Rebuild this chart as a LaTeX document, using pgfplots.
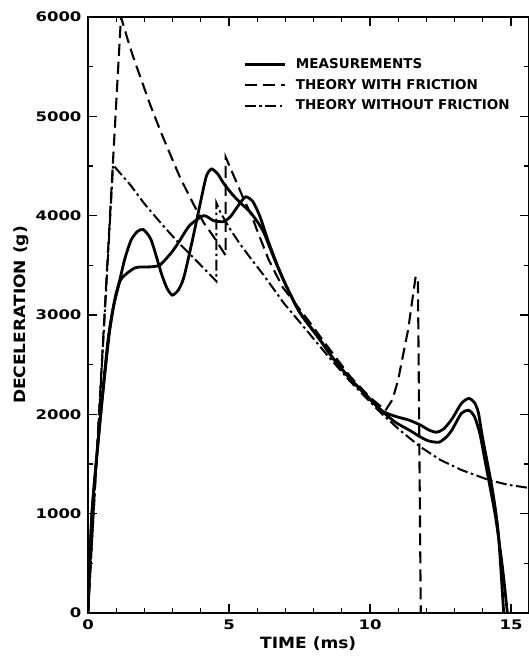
\documentclass[border=0pt]{standalone}
\usepackage{fontspec}
\setmainfont{DejaVu Sans}
\newfontfamily\tickfont{DejaVu Sans}[FakeStretch=1.25]
\newfontfamily\labfont{DejaVu Sans}[FakeStretch=1.1]
\usepackage{pgfplots}
\pgfplotsset{compat=1.18}
\begin{document}
\begin{tikzpicture}
\begin{axis}[
  scale only axis, width=440.5pt, height=596pt,
  xmin=0, xmax=15.62, ymin=0, ymax=6000,
  axis line style={line width=1.5pt},
  xtick={0,5,10,15}, ytick={0,1000,...,6000},
  minor x tick num=4, minor y tick num=1,
  tick align=inside, tick pos=both,
  xticklabel pos=lower, yticklabel pos=left,
  major tick length=9pt, minor tick length=5pt,
  every tick/.style={black, line width=1.2pt},
  /pgf/number format/1000 sep={},
  /pgf/number format/assume math mode=true,
  ticklabel style={font=\tickfont\bfseries\fontsize{13.2}{15}\selectfont},
  xticklabel style={yshift=-3pt}, yticklabel style={xshift=-3pt},
  xlabel={TIME (ms)}, ylabel={DECELERATION (g)},
  label style={font=\labfont\bfseries\fontsize{15.5}{18}\selectfont},
  legend style={at={(0.345,0.937)}, anchor=north west, draw=none, fill=none,
    font=\bfseries\fontsize{13.5}{16}\selectfont, row sep=5pt, cells={anchor=west},
    /tikz/every odd column/.append style={column sep=8pt}},
  legend image code/.code={\draw[#1] (0pt,0pt) -- (40pt,0pt);},
]
% Measurements, trace A
\addplot[black, line width=2.8pt, smooth, tension=0.4] coordinates {
(0,0) (0.14,1000) (0.45,2000) (0.71,2750) (0.9,3080) (1.07,3280) (1.3,3560)
(1.53,3755) (1.75,3840) (1.96,3860) (2.24,3755) (2.6,3420) (2.8,3270) (2.99,3200)
(3.2,3250) (3.4,3380) (3.7,3750) (4.0,4150) (4.2,4400) (4.38,4470) (4.6,4420)
(4.8,4330) (5.1,4220) (5.4,4130) (5.77,4030) (6.2,3850) (6.6,3570) (7.0,3310)
(7.5,3030) (8.15,2780) (8.7,2560) (9.32,2350) (9.7,2240) (10.4,2040)
(10.9,1980) (11.4,1940) (11.8,1890) (12.1,1840) (12.35,1820) (12.6,1850)
(12.9,1950) (13.24,2110) (13.5,2160) (13.7,2120) (13.84,2020) (14.0,1750)
(14.34,1240) (14.55,800) (14.74,0)
};
\addlegendentry{MEASUREMENTS}
% Measurements, trace B
\addplot[black, line width=2.8pt, smooth, tension=0.4, forget plot] coordinates {
(0,0) (0.14,1000) (0.45,2000) (0.75,2800) (0.96,3170) (1.17,3360) (1.67,3475)
(2.24,3485) (2.56,3505) (2.95,3625) (3.2,3725) (3.6,3900) (4.1,4000) (4.45,3950)
(4.8,3940) (5.05,3990) (5.4,4130) (5.6,4190) (5.85,4140) (6.1,3990) (6.37,3760)
(6.7,3510) (7.0,3310) (7.5,3030) (8.15,2780) (8.7,2560) (9.32,2350) (9.7,2240)
(10.4,2040) (10.9,1920) (11.4,1840) (11.8,1770) (12.1,1730) (12.45,1720)
(12.7,1770) (12.9,1840) (13.24,2010) (13.5,2040) (13.7,1980) (13.9,1800)
(14.1,1500) (14.45,970) (14.7,450) (14.87,0)
};
% Theory with friction
\addplot[black, line width=2.1pt, dash pattern=on 12pt off 6pt] coordinates {
(0,0) (1.17,6000) (1.4,5780) (1.6,5600) (1.85,5400) (2.2,5120) (2.6,4830)
(3.0,4560) (3.27,4380) (3.75,4110) (4.1,3930) (4.45,3790) (4.88,3600)
(4.88,4590) (5.2,4380) (5.5,4180) (5.8,4000) (6.0,3850) (6.4,3560) (6.9,3280)
(7.8,2950) (8.5,2680) (9.3,2380) (10.0,2170) (10.55,2040) (10.8,2150)
(11.0,2350) (11.35,2850) (11.55,3250) (11.62,3390) (11.7,3330) (11.8,0)
};
\addlegendentry{THEORY WITH FRICTION}
% Theory without friction
\addplot[black, line width=2pt, dash pattern=on 11pt off 3.5pt on 2.5pt off 3.5pt] coordinates {
(0,0) (0.89,4510) (1.5,4310) (2.0,4120) (2.6,3920) (3.2,3730) (3.9,3530)
(4.55,3340) (4.55,4130) (4.7,4030) (5.05,3860) (5.4,3710) (5.77,3570)
(6.26,3390) (6.94,3120) (7.65,2880) (8.5,2590) (9.3,2330) (10.4,2010)
(11.1,1830) (11.8,1670) (12.5,1540) (13.24,1440) (14.2,1340) (14.9,1290)
(15.62,1260)
};
\addlegendentry{THEORY WITHOUT FRICTION}
\end{axis}
\pgfresetboundingbox
\path[use as bounding box] ([xshift=-88pt,yshift=-44pt]current axis.south west) rectangle ([xshift=-0.5pt,yshift=17pt]current axis.north east);
\end{tikzpicture}
\end{document}
